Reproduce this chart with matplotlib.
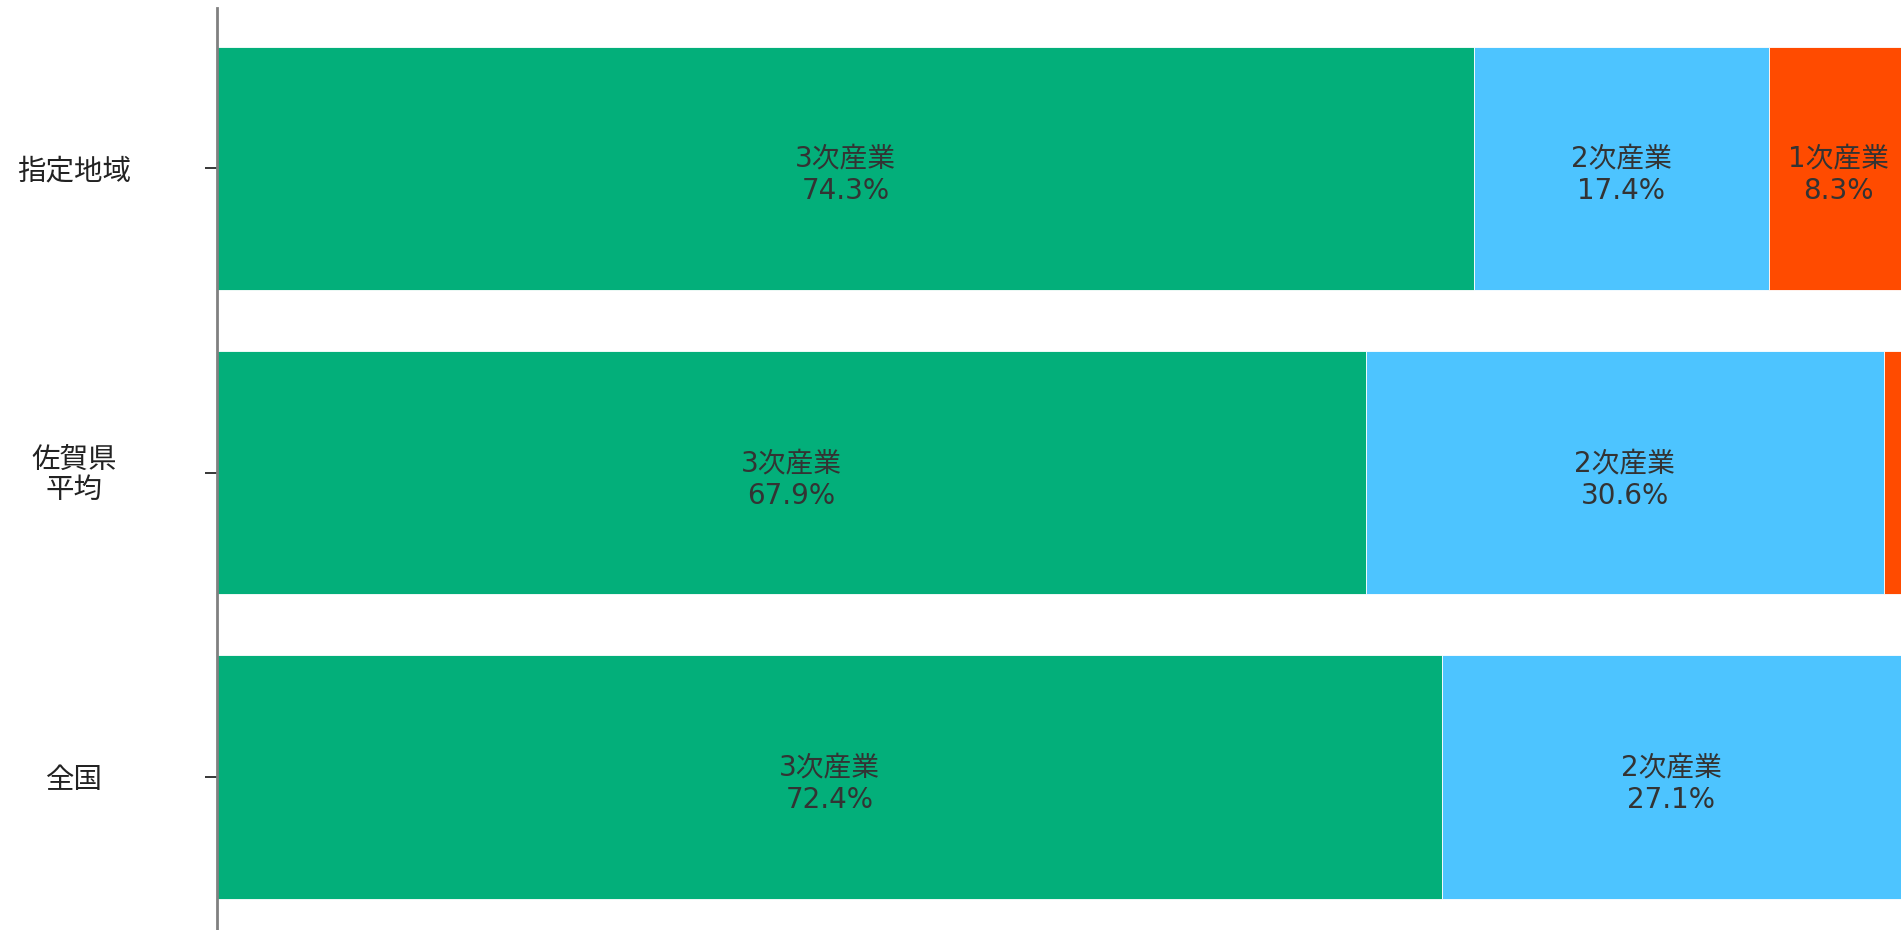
import numpy as np
import matplotlib
matplotlib.use('Agg')
import matplotlib.pyplot as plt

plt.rcParams['font.family'] = ['DejaVu Sans', 'Noto Sans CJK JP']

regions = ['指定地域', '佐賀県\n平均', '全国']
industries = ['3次産業', '2次産業', '1次産業']
tertiary = [74.3, 67.9, 72.4]
secondary = [17.4, 30.6, 27.1]
primary = [8.3, 1.5, 0.5]
colors = ['#03AF7A', '#4DC4FF', '#FF4B00']

series = [tertiary, secondary, primary]

fig = plt.figure(figsize=(19.01, 9.30), dpi=100)
# axes runs a little past the right edge, as in the original
ax = fig.add_axes([217 / 1901, 0, 1692 / 1901, 1 - 8 / 930])

y = np.arange(len(regions))
left = np.zeros(len(regions))
for name, vals, c in zip(industries, series, colors):
    vals = np.array(vals)
    ax.barh(y, vals, left=left, height=0.8, color=c,
            edgecolor='white', linewidth=0.6)
    for yi, l, v in zip(y, left, vals):
        if v >= 5:
            ax.text(l + v / 2, yi + 0.022, f'{name}\n{v:.1f}%', ha='center', va='center',
                    fontsize=20, color='#333333', linespacing=1.2)
    left += vals

ax.set_xlim(0, 100)
ax.set_ylim(2.503, -0.527)
ax.set_yticks(y)
ax.set_yticklabels(regions, fontsize=20.5, ha='center', color='#222222',
                   linespacing=0.95, family=['Noto Sans CJK JP', 'DejaVu Sans'])
ax.tick_params(axis='y', length=8.6, width=1.1, color='black', pad=94)
ax.set_xticks([])

for s in ['top', 'right', 'bottom']:
    ax.spines[s].set_visible(False)
ax.spines['left'].set_color('#808080')
ax.spines['left'].set_linewidth(2)

fig.savefig('out.png', dpi=100)
